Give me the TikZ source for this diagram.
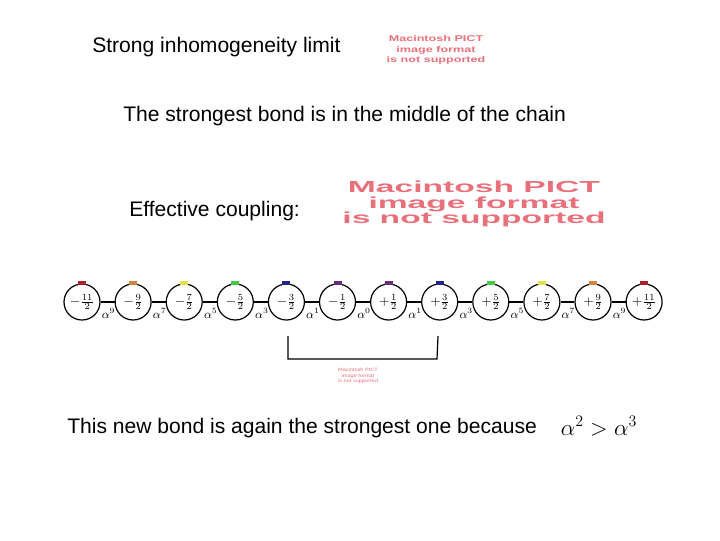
\documentclass[tikz,border=0pt]{standalone}
\usepackage{fontspec}
\setmainfont{Liberation Sans}
\usetikzlibrary{calc}
\definecolor{pictred}{RGB}{232,112,122}
\definecolor{mkred}{RGB}{175,30,45}
\definecolor{mkorange}{RGB}{205,135,60}
\definecolor{mkyellow}{RGB}{225,225,70}
\definecolor{mkgreen}{RGB}{70,200,70}
\definecolor{mkblue}{RGB}{35,35,140}
\definecolor{mkpurple}{RGB}{105,45,125}
\tikzset{
  site/.style={circle,draw,line width=0.9pt,minimum size=27pt,inner sep=0pt,font=\normalsize},
  bondlbl/.style={inner sep=0pt,font=\small},
  slidetxt/.style={anchor=west,inner sep=0.75pt,font=\fontsize{15.8}{19}\selectfont},
  pict/.style={text=pictred,align=center,inner sep=0pt,font=\bfseries}
}
\begin{document}
\begin{tikzpicture}[x=0.75pt,y=0.75pt,yscale=-1,xscale=1]
        \useasboundingbox (0,0) rectangle (720,540);
        \node[slidetxt] (t1) at (91,47) {Strong inhomogeneity limit};
        \node[slidetxt] (t2) at (122,116) {The strongest bond is in the middle of the chain};
        \node[slidetxt] (t3) at (128,211) {Effective coupling:};
        \node[slidetxt] (t4) at (66,428) {This new bond is again the strongest one because};
        \node[inner sep=0.75pt,font=\fontsize{18}{21}\selectfont] (ineq) at (599,426) {$\alpha^2 > \alpha^3$};
        \node[pict,xscale=1.5,font=\bfseries\fontsize{6.3}{8}\selectfont] (pict1) at (436,50) {Macintosh PICT\\image format\\is not supported};
        \node[pict,xscale=2.1,font=\bfseries\fontsize{12}{11.6}\selectfont] (pict2) at (474,204) {Macintosh PICT\\image format\\is not supported};
        \node[pict,xscale=1.2,font=\fontsize{3.5}{4.2}\selectfont] (pict3) at (358,376) {Macintosh PICT\\image format\\is not supported};
        \foreach \i/\lab/\col in {1/-\frac{11}{2}/mkred,2/-\frac{9}{2}/mkorange,3/-\frac{7}{2}/mkyellow,4/-\frac{5}{2}/mkgreen,5/-\frac{3}{2}/mkblue,6/-\frac{1}{2}/mkpurple,7/+\frac{1}{2}/mkpurple,8/+\frac{3}{2}/mkblue,9/+\frac{5}{2}/mkgreen,10/+\frac{7}{2}/mkyellow,11/+\frac{9}{2}/mkorange,12/+\frac{11}{2}/mkred} {
            \node[site] (c\i) at ({82+51.1*(\i-1)},302) {$\lab$};
            \fill[\col] ($(c\i.north)+(-4,-2)$) rectangle ($(c\i.north)+(4,2)$);
        }
        \foreach \i/\j/\e in {1/2/9,2/3/7,3/4/5,4/5/3,5/6/1,6/7/0,7/8/1,8/9/3,9/10/5,10/11/7,11/12/9} {
            \draw[line width=0.9pt] (c\i) -- (c\j);
            \node[bondlbl] (a\i) at ($(c\i)!0.5!(c\j)+(1,11)$) {$\alpha^{\e}$};
        }
        \coordinate (b1) at (288,336);
        \coordinate (b2) at (288,359);
        \coordinate (b3) at (437,359);
        \coordinate (b4) at (438,336);
        \draw[line width=0.9pt] (b1) -- (b2) -- (b3) -- (b4);
\end{tikzpicture}
\end{document}
